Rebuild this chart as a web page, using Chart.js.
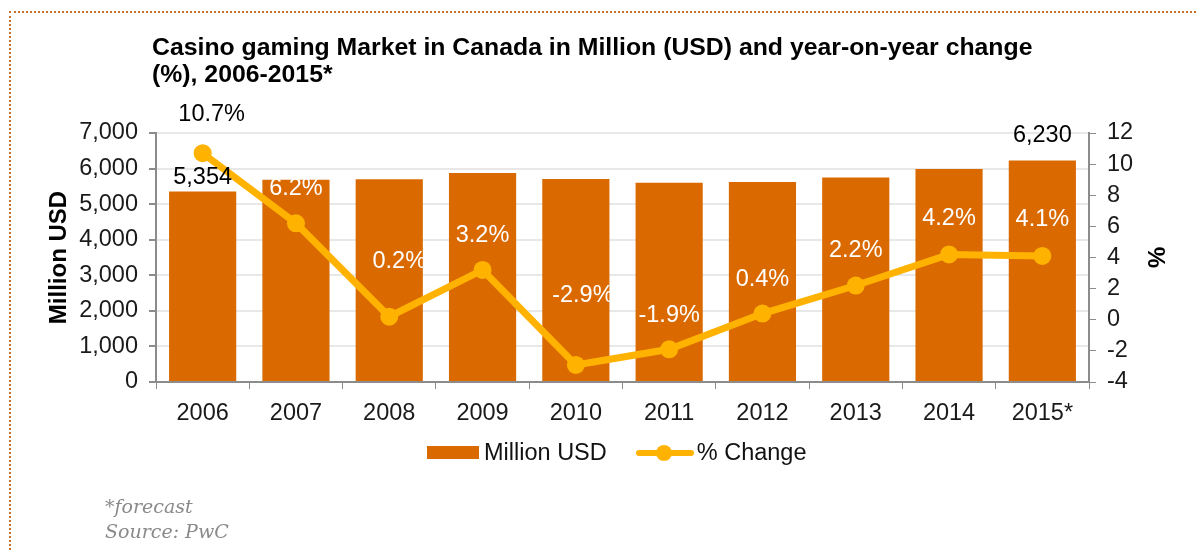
<!DOCTYPE html>
<html>
<head>
<meta charset="utf-8">
<script src="https://cdn.jsdelivr.net/npm/chart.js@4.4.0/dist/chart.umd.min.js"></script>
<style>
  html, body { margin: 0; padding: 0; background: #fff; }
  body { width: 1198px; height: 552px; position: relative; overflow: hidden;
         font-family: "Liberation Sans", Arial, sans-serif; }
  .frame { position: absolute; left: 9px; top: 11px; right: -10px; bottom: -10px;
           border-top: 2px dotted #c4702a; border-left: 2px dotted #c4702a; }
  #chart { position: absolute; left: 0; top: 0; }
  .title { position: absolute; left: 152px; top: 33px; font-weight: bold; font-size: 24.8px;
           line-height: 27px; color: #000; }
  .legend { position: absolute; left: 427px; top: 439px; display: flex; align-items: center;
            font-size: 23.5px; color: #111; }
  .legend .item { display: flex; align-items: center; margin-right: 29px; }
  .sw-bar { width: 52px; height: 13px; margin-right: 5px; }
  .sw-line { position: relative; width: 58px; height: 18px; margin-right: 3px; }
  .sw-line i { position: absolute; left: 0; right: 0; top: 6px; height: 6px; border-radius: 3px; }
  .sw-line b { position: absolute; left: 20px; top: 1px; width: 16px; height: 16px; border-radius: 50%; }
  .note { position: absolute; left: 105px; top: 494px; font-family: "DejaVu Serif", serif;
          font-style: italic; font-size: 19px; line-height: 25px; color: #8a8a8a; }
</style>
</head>
<body>
<div class="frame"></div>
<canvas id="chart" width="1198" height="552"></canvas>
<div class="title">Casino gaming Market in Canada in Million (USD) and year-on-year change<br>(%), 2006-2015*</div>
<div class="legend" id="legend"></div>
<div class="note">*forecast<br>Source: PwC</div>

<script>
const BAR = "#da6a00";
const LINE = "#ffb300";
const AXIS = "#8c8c8c";
const TXT = "#1a1a1a";
const FONT = "'Liberation Sans', Arial, sans-serif";
const SIZE = 23.5;

const years = ["2006", "2007", "2008", "2009", "2010", "2011", "2012", "2013", "2014", "2015*"];
const marketUsd = [5354, 5686, 5697, 5879, 5709, 5600, 5622, 5746, 5987, 6230];
const pctChange = [10.7, 6.2, 0.2, 3.2, -2.9, -1.9, 0.4, 2.2, 4.2, 4.1];

const usdTicks = { min: 0, max: 7000, step: 1000 };
const pctTicks = { min: -4, max: 12, step: 2 };

// where each % label sits relative to its point
const pctLift = [39, 35, 55, 34, 69, 34, 34, 35, 36, 36];
const pctShift = [9, 0, 10, 0, 7, 0, 0, 0, 0, 0];
// how far the value label sits above the first/last bar
const barLift = [14, 25];

const labels = {
  id: "labels",
  afterDatasetsDraw(chart) {
    const ctx = chart.ctx;
    const bars = chart.getDatasetMeta(0).data;
    const pts = chart.getDatasetMeta(1).data;
    ctx.save();
    ctx.font = SIZE + "px " + FONT;
    ctx.textAlign = "center";
    ctx.textBaseline = "middle";

    pts.forEach((p, i) => {
      const y = p.y - pctLift[i];
      ctx.fillStyle = y > bars[i].y + 4 ? "#fff" : "#000";
      ctx.fillText(pctChange[i].toFixed(1) + "%", p.x + pctShift[i], y);
    });

    [0, marketUsd.length - 1].forEach((i, k) => {
      const b = bars[i];
      ctx.fillStyle = "#000";
      ctx.fillText(marketUsd[i].toLocaleString("en-US"), b.x, b.y - barLift[k]);
    });
    ctx.restore();
  },
};

const tickFont = { family: FONT, size: SIZE };
const titleFont = { family: FONT, size: 24, weight: "bold" };

const chart = new Chart(document.getElementById("chart"), {
  data: {
    labels: years,
    datasets: [
      {
        type: "bar",
        label: "Million USD",
        data: marketUsd,
        backgroundColor: BAR,
        yAxisID: "y",
        categoryPercentage: 1,
        barPercentage: 0.72,
        order: 2,
      },
      {
        type: "line",
        label: "% Change",
        data: pctChange,
        borderColor: LINE,
        backgroundColor: LINE,
        borderWidth: 7,
        pointRadius: 9,
        pointHoverRadius: 9,
        pointBorderWidth: 0,
        tension: 0,
        yAxisID: "y1",
        order: 1,
      },
    ],
  },
  options: {
    responsive: false,
    animation: false,
    events: [],
    layout: { padding: { top: 133, left: 45, right: 29, bottom: 120 } },
    plugins: { legend: { display: false }, tooltip: { enabled: false } },
    scales: {
      x: {
        grid: { offset: true, drawOnChartArea: false, tickLength: 7, tickColor: AXIS },
        border: { color: AXIS, width: 2 },
        ticks: { color: TXT, font: tickFont, padding: 10, maxRotation: 0, autoSkip: false },
        afterFit: (s) => { s.height = 50; },
      },
      y: {
        position: "left",
        min: usdTicks.min,
        max: usdTicks.max,
        grid: { color: "#e8e8e8", lineWidth: 2, tickLength: 7, tickColor: AXIS },
        border: { color: AXIS, width: 2 },
        ticks: { stepSize: usdTicks.step, color: TXT, font: tickFont, padding: 11, autoSkip: false },
        title: { display: true, text: "Million USD", color: "#000", padding: 0, font: titleFont },
        afterFit: (s) => { s.width = 111; },
      },
      y1: {
        position: "right",
        min: pctTicks.min,
        max: pctTicks.max,
        grid: { drawOnChartArea: false, tickLength: 7, tickColor: AXIS },
        border: { color: AXIS, width: 2 },
        ticks: { stepSize: pctTicks.step, color: TXT, font: tickFont, padding: 11, autoSkip: false },
        title: { display: true, text: "%", color: "#000", padding: 0, font: titleFont },
        afterFit: (s) => { s.width = 80; },
      },
    },
  },
  plugins: [labels],
});

// legend built from the datasets
const legend = document.getElementById("legend");
chart.data.datasets.forEach((ds) => {
  const item = document.createElement("div");
  item.className = "item";
  if (ds.type === "bar") {
    item.innerHTML = `<span class="sw-bar" style="background:${ds.backgroundColor}"></span>${ds.label}`;
  } else {
    item.innerHTML = `<span class="sw-line"><i style="background:${ds.borderColor}"></i><b style="background:${ds.borderColor}"></b></span>${ds.label}`;
  }
  legend.appendChild(item);
});
</script>
</body>
</html>
